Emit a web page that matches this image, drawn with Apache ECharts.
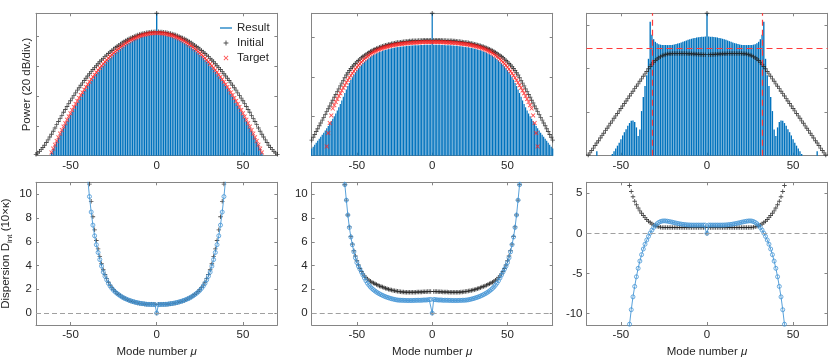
<!DOCTYPE html>
<html>
<head>
<meta charset="utf-8">
<script src="https://cdn.jsdelivr.net/npm/echarts@6/dist/echarts.min.js"></script>
<style>
  html, body { margin: 0; padding: 0; background: #fff; }
  #chart { width: 830px; height: 362px; }
</style>
</head>
<body>
<div id="chart"></div>
<script>
// ---- data (power in dB above the floor, dispersion in units of 10 x kappa) ----
// each series starts at the given mode number and steps by one mode

// panel 1: Kerr comb, power
const res1Start = -61
const res1 = [
  2.0, 4.5, 7.0, 9.4, 11.8, 14.2, 16.5, 18.8, 21.0, 23.2,
  25.4, 27.4, 29.6, 31.7, 33.7, 35.7, 37.7, 39.6, 41.4, 43.3,
  45.1, 46.8, 48.5, 50.2, 51.8, 53.3, 54.9, 56.3, 57.8, 59.2,
  60.5, 61.9, 63.1, 64.3, 65.5, 66.7, 67.8, 68.8, 69.8, 70.8,
  71.7, 72.6, 73.4, 74.2, 75.0, 75.7, 76.4, 77.0, 77.6, 78.1,
  78.6, 79.1, 79.5, 79.8, 80.1, 80.4, 80.7, 80.9, 81.0, 81.1,
  81.2, 95.4, 81.2, 81.1, 81.0, 80.9, 80.7, 80.4, 80.1, 79.8,
  79.5, 79.1, 78.6, 78.1, 77.6, 77.0, 76.4, 75.7, 75.0, 74.2,
  73.4, 72.6, 71.7, 70.8, 69.8, 68.8, 67.8, 66.7, 65.5, 64.3,
  63.1, 61.9, 60.5, 59.2, 57.8, 56.3, 54.9, 53.3, 51.8, 50.2,
  48.5, 46.8, 45.1, 43.3, 41.4, 39.6, 37.7, 35.7, 33.7, 31.7,
  29.6, 27.4, 25.4, 23.2, 21.0, 18.8, 16.5, 14.2, 11.8, 9.4,
  7.0, 4.5, 2.0
]
const init1Start = -70
const init1 = [
  0.9, 1.8, 2.9, 4.1, 5.5, 7.0, 8.8, 10.6, 12.5, 14.4,
  16.4, 18.6, 20.8, 22.9, 25.0, 27.0, 29.1, 31.0, 33.0, 34.9,
  36.8, 38.6, 40.4, 42.1, 43.9, 45.5, 47.2, 48.8, 50.4, 51.9,
  53.4, 54.9, 56.3, 57.7, 59.0, 60.3, 61.6, 62.9, 64.1, 65.2,
  66.4, 67.4, 68.5, 69.5, 70.5, 71.4, 72.3, 73.2, 74.0, 74.8,
  75.6, 76.3, 77.0, 77.7, 78.3, 78.8, 79.4, 79.9, 80.3, 80.8,
  81.2, 81.5, 81.8, 82.1, 82.3, 82.5, 82.7, 82.8, 82.9, 83.0,
  95.4, 83.0, 82.9, 82.8, 82.7, 82.5, 82.3, 82.1, 81.8, 81.5,
  81.2, 80.8, 80.3, 79.9, 79.4, 78.8, 78.3, 77.7, 77.0, 76.3,
  75.6, 74.8, 74.0, 73.2, 72.3, 71.4, 70.5, 69.5, 68.5, 67.4,
  66.4, 65.2, 64.1, 62.9, 61.6, 60.3, 59.0, 57.7, 56.3, 54.9,
  53.4, 51.9, 50.4, 48.8, 47.2, 45.5, 43.9, 42.1, 40.4, 38.6,
  36.8, 34.9, 33.0, 31.0, 29.1, 27.0, 25.0, 22.9, 20.8, 18.6,
  16.4, 14.4, 12.5, 10.6, 8.8, 7.0, 5.5, 4.1, 2.9, 1.8,
  0.9
]
const tgt1Start = -61
const tgt1 = [
  2.2, 4.8, 7.4, 9.9, 12.3, 14.8, 17.2, 19.5, 21.8, 24.1,
  26.3, 28.4, 30.6, 32.7, 34.7, 36.7, 38.7, 40.6, 42.4, 44.3,
  46.1, 47.8, 49.5, 51.2, 52.8, 54.3, 55.9, 57.3, 58.8, 60.2,
  61.5, 62.9, 64.1, 65.3, 66.5, 67.7, 68.8, 69.8, 70.8, 71.8,
  72.7, 73.6, 74.4, 75.2, 76.0, 76.7, 77.4, 78.0, 78.6, 79.1,
  79.6, 80.1, 80.5, 80.8, 81.1, 81.4, 81.7, 81.9, 82.0, 82.1,
  82.2, 82.2, 82.2, 82.1, 82.0, 81.9, 81.7, 81.4, 81.1, 80.8,
  80.5, 80.1, 79.6, 79.1, 78.6, 78.0, 77.4, 76.7, 76.0, 75.2,
  74.4, 73.6, 72.7, 71.8, 70.8, 69.8, 68.8, 67.7, 66.5, 65.3,
  64.1, 62.9, 61.5, 60.2, 58.8, 57.3, 55.9, 54.3, 52.8, 51.2,
  49.5, 47.8, 46.1, 44.3, 42.4, 40.6, 38.7, 36.7, 34.7, 32.7,
  30.6, 28.4, 26.3, 24.1, 21.8, 19.5, 17.2, 14.8, 12.3, 9.9,
  7.4, 4.8, 2.2
]

// panel 2: flat-top comb, power
const res2Start = -80
const res2 = [
  3.6, 4.6, 5.6, 6.6, 7.6, 8.6, 9.6, 10.6, 11.7, 12.8,
  13.9, 15.1, 16.3, 17.5, 18.8, 20.1, 21.5, 23.0, 24.6, 26.3,
  28.1, 30.0, 31.9, 33.7, 35.4, 37.0, 38.5, 39.9, 41.2, 42.4,
  43.5, 44.5, 45.4, 46.2, 47.0, 47.7, 48.4, 49.0, 49.6, 50.2,
  50.7, 51.2, 51.6, 52.0, 52.4, 52.7, 53.0, 53.3, 53.6, 53.8,
  54.0, 54.2, 54.4, 54.6, 54.8, 54.9, 55.1, 55.2, 55.3, 55.4,
  55.5, 55.6, 55.7, 55.8, 55.9, 55.9, 56.0, 56.0, 56.1, 56.1,
  56.2, 56.2, 56.3, 56.3, 56.3, 56.4, 56.4, 56.4, 56.4, 56.4,
  72.4, 56.4, 56.4, 56.4, 56.4, 56.4, 56.3, 56.3, 56.3, 56.2,
  56.2, 56.1, 56.1, 56.0, 56.0, 55.9, 55.9, 55.8, 55.7, 55.6,
  55.5, 55.4, 55.3, 55.2, 55.1, 54.9, 54.8, 54.6, 54.4, 54.2,
  54.0, 53.8, 53.6, 53.3, 53.0, 52.7, 52.4, 52.0, 51.6, 51.2,
  50.7, 50.2, 49.6, 49.0, 48.4, 47.7, 47.0, 46.2, 45.4, 44.5,
  43.5, 42.4, 41.2, 39.9, 38.5, 37.0, 35.4, 33.7, 31.9, 30.0,
  28.1, 26.3, 24.6, 23.0, 21.5, 20.1, 18.8, 17.5, 16.3, 15.1,
  13.9, 12.8, 11.7, 10.6, 9.6, 8.6, 7.6, 6.6, 5.6, 4.6,
  3.6
]
const init2Start = -80
const init2 = [
  7.9, 9.4, 10.8, 12.3, 13.7, 15.2, 16.6, 18.1, 19.5, 21.0,
  22.4, 23.9, 25.3, 26.8, 28.2, 29.7, 31.1, 32.6, 34.0, 35.5,
  36.9, 38.3, 39.7, 41.0, 42.2, 43.3, 44.3, 45.2, 46.1, 46.9,
  47.7, 48.4, 49.1, 49.8, 50.4, 51.0, 51.5, 52.0, 52.5, 53.0,
  53.4, 53.8, 54.1, 54.5, 54.8, 55.1, 55.4, 55.6, 55.9, 56.1,
  56.3, 56.5, 56.7, 56.9, 57.1, 57.2, 57.4, 57.5, 57.6, 57.7,
  57.8, 57.9, 58.0, 58.1, 58.2, 58.3, 58.3, 58.4, 58.4, 58.5,
  58.5, 58.6, 58.6, 58.6, 58.7, 58.7, 58.7, 58.7, 58.7, 58.7,
  72.4, 58.7, 58.7, 58.7, 58.7, 58.7, 58.7, 58.6, 58.6, 58.6,
  58.5, 58.5, 58.4, 58.4, 58.3, 58.3, 58.2, 58.1, 58.0, 57.9,
  57.8, 57.7, 57.6, 57.5, 57.4, 57.2, 57.1, 56.9, 56.7, 56.5,
  56.3, 56.1, 55.9, 55.6, 55.4, 55.1, 54.8, 54.5, 54.1, 53.8,
  53.4, 53.0, 52.5, 52.0, 51.5, 51.0, 50.4, 49.8, 49.1, 48.4,
  47.7, 46.9, 46.1, 45.2, 44.3, 43.3, 42.2, 41.0, 39.7, 38.3,
  36.9, 35.5, 34.0, 32.6, 31.1, 29.7, 28.2, 26.8, 25.3, 23.9,
  22.4, 21.0, 19.5, 18.1, 16.6, 15.2, 13.7, 12.3, 10.8, 9.4,
  7.9
]
const tgt2Start = -70
const tgt2 = [
  4.7, 11.5, 16.6, 20.5, 24.0, 25.7, 27.3, 28.8, 30.3, 31.7,
  33.1, 34.5, 35.8, 37.1, 38.4, 39.6, 40.8, 41.9, 43.0, 44.0,
  45.0, 45.9, 46.8, 47.6, 48.4, 49.1, 49.8, 50.4, 51.0, 51.6,
  52.1, 52.6, 53.0, 53.4, 53.8, 54.1, 54.4, 54.7, 55.0, 55.2,
  55.4, 55.6, 55.8, 56.0, 56.2, 56.3, 56.5, 56.6, 56.7, 56.8,
  56.9, 57.0, 57.1, 57.2, 57.3, 57.3, 57.4, 57.4, 57.5, 57.5,
  57.6, 57.6, 57.7, 57.7, 57.7, 57.8, 57.8, 57.8, 57.8, 57.8,
  57.8, 57.8, 57.8, 57.8, 57.8, 57.8, 57.7, 57.7, 57.7, 57.6,
  57.6, 57.5, 57.5, 57.4, 57.4, 57.3, 57.3, 57.2, 57.1, 57.0,
  56.9, 56.8, 56.7, 56.6, 56.5, 56.3, 56.2, 56.0, 55.8, 55.6,
  55.4, 55.2, 55.0, 54.7, 54.4, 54.1, 53.8, 53.4, 53.0, 52.6,
  52.1, 51.6, 51.0, 50.4, 49.8, 49.1, 48.4, 47.6, 46.8, 45.9,
  45.0, 44.0, 43.0, 41.9, 40.8, 39.6, 38.4, 37.1, 35.8, 34.5,
  33.1, 31.7, 30.3, 28.8, 27.3, 25.7, 24.0, 20.5, 16.6, 11.5,
  4.7
]

// panel 3: comb with dispersive waves, power
const res3Start = -64
const res3 = [
  2.0, 0, 0, 0, 0, 0, 0, 0, 0, 0.8,
  2.0, 3.3, 4.6, 6.0, 7.6, 9.3, 10.8, 12.2, 13.8, 15.0,
  16.0, 16.2, 15.5, 13.0, 9.0, 12.0, 20.5, 27.0, 32.0, 37.0,
  44.5, 61.5, 55.5, 53.5, 52.3, 51.6, 51.2, 51.0, 50.8, 50.8,
  50.8, 50.8, 50.8, 50.8, 50.9, 51.1, 51.3, 51.5, 51.7, 52.0,
  52.3, 52.6, 52.9, 53.2, 53.5, 53.7, 53.9, 54.1, 54.3, 54.4,
  54.5, 54.6, 54.6, 54.7, 65.4, 54.7, 54.6, 54.6, 54.5, 54.4,
  54.3, 54.1, 53.9, 53.7, 53.5, 53.2, 52.9, 52.6, 52.3, 52.0,
  51.7, 51.5, 51.3, 51.1, 50.9, 50.8, 50.8, 50.8, 50.8, 50.8,
  50.8, 51.0, 51.2, 51.6, 52.3, 53.5, 55.5, 61.5, 44.5, 37.0,
  32.0, 27.0, 20.5, 12.0, 9.0, 13.0, 15.5, 16.2, 16.0, 15.0,
  13.8, 12.2, 10.8, 9.3, 7.6, 6.0, 4.6, 3.3, 2.0, 0.8,
  0, 0, 0, 0, 0, 0, 0, 0, 2.0
]
const init3Start = -69
const init3 = [
  0.3, 1.3, 2.4, 3.5, 4.7, 5.8, 6.9, 8.1, 9.2, 10.3,
  11.5, 12.6, 13.7, 14.9, 16.0, 17.2, 18.3, 19.4, 20.6, 21.7,
  22.8, 24.0, 25.1, 26.2, 27.4, 28.5, 29.6, 30.8, 31.9, 33.0,
  34.2, 35.3, 36.5, 37.6, 38.7, 39.9, 41.0, 42.0, 42.9, 43.7,
  44.4, 45.0, 45.5, 45.9, 46.2, 46.5, 46.7, 46.8, 46.8, 46.9,
  46.9, 46.9, 46.9, 46.9, 46.9, 46.9, 46.9, 46.9, 46.8, 46.8,
  46.8, 46.7, 46.7, 46.6, 46.6, 46.5, 46.5, 46.4, 46.4, 65.4,
  46.4, 46.4, 46.5, 46.5, 46.6, 46.6, 46.7, 46.7, 46.8, 46.8,
  46.8, 46.9, 46.9, 46.9, 46.9, 46.9, 46.9, 46.9, 46.9, 46.9,
  46.8, 46.8, 46.7, 46.5, 46.2, 45.9, 45.5, 45.0, 44.4, 43.7,
  42.9, 42.0, 41.0, 39.9, 38.7, 37.6, 36.5, 35.3, 34.2, 33.0,
  31.9, 30.8, 29.6, 28.5, 27.4, 26.2, 25.1, 24.0, 22.8, 21.7,
  20.6, 19.4, 18.3, 17.2, 16.0, 14.9, 13.7, 12.6, 11.5, 10.3,
  9.2, 8.1, 6.9, 5.8, 4.7, 3.5, 2.4, 1.3, 0.3
]
const cutModes3 = [-32, 32]
const cutLevel3 = 49.5

// panel 4-6: integrated dispersion
const disp4Start = -40
const res4 = [
  11.3, 9.8, 8.5, 7.4, 6.5, 5.75, 5.1, 4.5, 3.95, 3.45,
  3.1, 2.8, 2.5, 2.27, 2.08, 1.91, 1.77, 1.65, 1.54, 1.44,
  1.35, 1.27, 1.2, 1.14, 1.08, 1.03, 0.98, 0.94, 0.9, 0.87,
  0.84, 0.81, 0.79, 0.77, 0.75, 0.74, 0.73, 0.73, 0.72, 0.72,
  0, 0.72, 0.72, 0.73, 0.73, 0.74, 0.75, 0.77, 0.79, 0.81,
  0.84, 0.87, 0.9, 0.94, 0.98, 1.03, 1.08, 1.14, 1.2, 1.27,
  1.35, 1.44, 1.54, 1.65, 1.77, 1.91, 2.08, 2.27, 2.5, 2.8,
  3.1, 3.45, 3.95, 4.5, 5.1, 5.75, 6.5, 7.4, 8.5, 9.8,
  11.3
]
const init4 = [
  12.5, 10.85, 9.4, 8.1, 7.0, 6.1, 5.4, 4.75, 4.15, 3.65,
  3.25, 2.9, 2.6, 2.35, 2.14, 1.97, 1.82, 1.68, 1.56, 1.45,
  1.35, 1.27, 1.2, 1.13, 1.07, 1.02, 0.97, 0.93, 0.89, 0.86,
  0.83, 0.8, 0.78, 0.76, 0.75, 0.74, 0.74, 0.74, 0.74, 0.74,
  0, 0.74, 0.74, 0.74, 0.74, 0.74, 0.75, 0.76, 0.78, 0.8,
  0.83, 0.86, 0.89, 0.93, 0.97, 1.02, 1.07, 1.13, 1.2, 1.27,
  1.35, 1.45, 1.56, 1.68, 1.82, 1.97, 2.14, 2.35, 2.6, 2.9,
  3.25, 3.65, 4.15, 4.75, 5.4, 6.1, 7.0, 8.1, 9.4, 10.85,
  12.5
]
const disp5Start = -59
const res5 = [
  12.3, 10.8, 9.5, 8.25, 7.2, 6.4, 5.75, 5.15, 4.65, 4.25,
  3.95, 3.7, 3.45, 3.2, 2.95, 2.72, 2.52, 2.35, 2.2, 2.07,
  1.96, 1.86, 1.77, 1.69, 1.62, 1.55, 1.49, 1.43, 1.38, 1.33,
  1.29, 1.25, 1.21, 1.18, 1.15, 1.12, 1.1, 1.09, 1.08, 1.08,
  1.07, 1.07, 1.06, 1.06, 1.06, 1.06, 1.06, 1.07, 1.07, 1.08,
  1.08, 1.08, 1.08, 1.1, 1.1, 1.1, 1.12, 1.13, 1.15, 0,
  1.15, 1.13, 1.12, 1.1, 1.1, 1.1, 1.08, 1.08, 1.08, 1.08,
  1.07, 1.07, 1.06, 1.06, 1.06, 1.06, 1.06, 1.07, 1.07, 1.08,
  1.08, 1.09, 1.1, 1.12, 1.15, 1.18, 1.21, 1.25, 1.29, 1.33,
  1.38, 1.43, 1.49, 1.55, 1.62, 1.69, 1.77, 1.86, 1.96, 2.07,
  2.2, 2.35, 2.52, 2.72, 2.95, 3.2, 3.45, 3.7, 3.95, 4.25,
  4.65, 5.15, 5.75, 6.4, 7.2, 8.25, 9.5, 10.8, 12.3
]
const init5 = [
  12.3, 10.8, 9.5, 8.25, 7.25, 6.45, 5.8, 5.25, 4.8, 4.4,
  4.05, 3.75, 3.5, 3.3, 3.13, 2.98, 2.86, 2.76, 2.67, 2.6,
  2.53, 2.47, 2.41, 2.35, 2.29, 2.24, 2.19, 2.14, 2.09, 2.05,
  2.01, 1.97, 1.94, 1.91, 1.88, 1.85, 1.83, 1.81, 1.79, 1.78,
  1.77, 1.76, 1.76, 1.76, 1.76, 1.76, 1.76, 1.76, 1.76, 1.77,
  1.77, 1.78, 1.78, 1.79, 1.8, 1.8, 1.81, 1.81, 1.82, 0,
  1.82, 1.81, 1.81, 1.8, 1.8, 1.79, 1.78, 1.78, 1.77, 1.77,
  1.76, 1.76, 1.76, 1.76, 1.76, 1.76, 1.76, 1.76, 1.77, 1.78,
  1.79, 1.81, 1.83, 1.85, 1.88, 1.91, 1.94, 1.97, 2.01, 2.05,
  2.09, 2.14, 2.19, 2.24, 2.29, 2.35, 2.41, 2.47, 2.53, 2.6,
  2.67, 2.76, 2.86, 2.98, 3.13, 3.3, 3.5, 3.75, 4.05, 4.4,
  4.8, 5.25, 5.8, 6.45, 7.25, 8.25, 9.5, 10.8, 12.3
]
const disp6Start = -46
const res6 = [
  -13.5, -11.3, -9.5, -7.9, -6.6, -5.4, -4.35, -3.45, -2.65, -1.95,
  -1.35, -0.83, -0.38, 0.03, 0.41, 0.73, 0.99, 1.2, 1.36, 1.47,
  1.53, 1.55, 1.54, 1.51, 1.47, 1.43, 1.38, 1.33, 1.28, 1.23,
  1.19, 1.15, 1.12, 1.09, 1.07, 1.05, 1.04, 1.03, 1.03, 1.03,
  1.03, 1.03, 1.03, 1.03, 1.03, 1.03, 0, 1.03, 1.03, 1.03,
  1.03, 1.03, 1.03, 1.03, 1.03, 1.03, 1.04, 1.05, 1.07, 1.09,
  1.12, 1.15, 1.19, 1.23, 1.28, 1.33, 1.38, 1.43, 1.47, 1.51,
  1.54, 1.55, 1.53, 1.47, 1.36, 1.2, 0.99, 0.73, 0.41, 0.03,
  -0.38, -0.83, -1.35, -1.95, -2.65, -3.45, -4.35, -5.4, -6.6, -7.9,
  -9.5, -11.3, -13.5
]
const init6 = [
  6.8, 5.95, 5.2, 4.55, 4.0, 3.55, 3.15, 2.8, 2.5, 2.22,
  1.96, 1.72, 1.51, 1.33, 1.18, 1.05, 0.95, 0.87, 0.81, 0.77,
  0.74, 0.72, 0.72, 0.72, 0.72, 0.72, 0.72, 0.72, 0.72, 0.72,
  0.72, 0.72, 0.72, 0.72, 0.72, 0.72, 0.72, 0.72, 0.72, 0.72,
  0.72, 0.72, 0.72, 0.72, 0.72, 0.72, 0, 0.72, 0.72, 0.72,
  0.72, 0.72, 0.72, 0.72, 0.72, 0.72, 0.72, 0.72, 0.72, 0.72,
  0.72, 0.72, 0.72, 0.72, 0.72, 0.72, 0.72, 0.72, 0.72, 0.72,
  0.72, 0.72, 0.74, 0.77, 0.81, 0.87, 0.95, 1.05, 1.18, 1.33,
  1.51, 1.72, 1.96, 2.22, 2.5, 2.8, 3.15, 3.55, 4.0, 4.55,
  5.2, 5.95, 6.8
]

// axes
const xRanges = [[-70, 70], [-80, 80], [-70, 70], [-70, 70], [-80, 80], [-70, 70]]
const yRanges = [[0, 95.4], [0, 72.4], [0, 65.4], [-1, 11], [-1, 11], [-11.4, 6.35]]
const xTicks = [-50, 0, 50]
const yTicks = [[0, 20, 40, 60, 80], [0, 20, 40, 60], [0, 20, 40, 60],
  [0, 2, 4, 6, 8, 10], [0, 2, 4, 6, 8, 10], [-10, -5, 0, 5]]

// ---- styling ----
const FONT = '"Liberation Sans", Arial, Helvetica, sans-serif'
const TXT = '#262626'
const AXC = '#858585'
const BLUE = '#0072BD'
const LBLUE = '#4596d6'
const RED = '#ff2222'
const BLK = '#222222'
const PLUS = 'path://M3.2,0L4.8,0L4.8,3.2L8,3.2L8,4.8L4.8,4.8L4.8,8L3.2,8L3.2,4.8L0,4.8L0,3.2L3.2,3.2Z'
const CROSS = 'path://M0,1.1L1.1,0L4,2.9L6.9,0L8,1.1L5.1,4L8,6.9L6.9,8L4,5.1L1.1,8L0,6.9L2.9,4Z'
const PLUS_ICON = 'path://M0,0M20,20M9.2,6L10.8,6L10.8,9.2L14,9.2L14,10.8L10.8,10.8L10.8,14L9.2,14L9.2,10.8L6,10.8L6,9.2L9.2,9.2Z'
const CROSS_ICON = 'path://M0,0M20,20M6,7L7,6L10,9L13,6L14,7L11,10L14,13L13,14L10,11L7,14L6,13L9,10Z'
const LINE_ICON = 'path://M0,0L20,0L20,2L0,2Z'

const boxes = [
  { left: 36, top: 13.3, width: 241.4, height: 142.4 },
  { left: 311.7, top: 13.3, width: 241, height: 142.4 },
  { left: 586.5, top: 13.3, width: 241, height: 142.4 },
  { left: 36, top: 182.3, width: 241.4, height: 142.7 },
  { left: 311.7, top: 182.3, width: 241, height: 142.7 },
  { left: 586.5, top: 182.3, width: 241, height: 142.7 }
]

function pts (start, vals) {
  return vals.map((v, i) => [start + i, v])
}

const labelFont = { color: TXT, fontSize: 11.5, fontFamily: FONT }

const grid = boxes.map(b => Object.assign({ containLabel: false, outerBoundsMode: 'none' }, b))
const xAxis = []
const yAxis = []
boxes.forEach((b, i) => {
  const common = {
    type: 'value',
    gridIndex: i,
    splitLine: { show: false },
    axisLine: { show: true, onZero: false, lineStyle: { color: AXC, width: 1 } },
    nameMoveOverlap: false
  }
  const xt = { show: true, inside: true, length: 3, customValues: xTicks, lineStyle: { color: AXC } }
  const yt = { show: true, inside: true, length: 3, customValues: yTicks[i], lineStyle: { color: AXC } }
  xAxis.push(Object.assign({}, common, {
    position: 'bottom', min: xRanges[i][0], max: xRanges[i][1],
    axisTick: xt,
    axisLabel: Object.assign({ show: true, customValues: xTicks, margin: 4 }, labelFont),
    name: i >= 3 ? 'Mode number {it|μ}' : '',
    nameLocation: 'middle',
    nameGap: 21,
    nameTextStyle: Object.assign({ rich: { it: Object.assign({ fontStyle: 'italic' }, labelFont) } }, labelFont)
  }))
  xAxis.push(Object.assign({}, common, {
    position: 'top', min: xRanges[i][0], max: xRanges[i][1],
    axisTick: xt, axisLabel: { show: false }
  }))
  let yName = ''
  let yGap = 1
  if (i === 0) yName = 'Power (20 dB/div.)'
  if (i === 3) { yName = 'Dispersion D{sub|int} (10×κ)'; yGap = 22 }
  yAxis.push(Object.assign({}, common, {
    position: 'left', min: yRanges[i][0], max: yRanges[i][1],
    axisTick: yt,
    axisLabel: Object.assign({ show: i >= 3, customValues: yTicks[i], margin: 4 }, labelFont),
    name: yName,
    nameLocation: 'middle',
    nameRotate: 90,
    nameGap: yGap,
    nameTextStyle: Object.assign({
      lineHeight: 16,
      rich: { sub: { fontSize: 8, lineHeight: 10, verticalAlign: 'bottom', color: TXT, fontFamily: FONT } }
    }, labelFont)
  }))
  yAxis.push(Object.assign({}, common, {
    position: 'right', min: yRanges[i][0], max: yRanges[i][1],
    axisTick: yt, axisLabel: { show: false }
  }))
})

function bars (i, name, start, vals, width) {
  return {
    type: 'bar', name: name, xAxisIndex: 2 * i, yAxisIndex: 2 * i,
    data: pts(start, vals), barWidth: width,
    itemStyle: { color: BLUE }, silent: true
  }
}
function marks (i, name, start, vals, symbol, color, size) {
  return {
    type: 'scatter', name: name, xAxisIndex: 2 * i, yAxisIndex: 2 * i,
    data: pts(start, vals), symbol: symbol, symbolSize: size,
    itemStyle: { color: color }, silent: true
  }
}
function curve (i, start, vals) {
  return {
    type: 'line', name: 'Result D', xAxisIndex: 2 * i, yAxisIndex: 2 * i,
    data: pts(start, vals), symbol: 'circle', symbolSize: 4,
    lineStyle: { color: LBLUE, width: 0.9 },
    itemStyle: { color: 'rgba(0,0,0,0)', borderColor: LBLUE, borderWidth: 0.8 },
    silent: true
  }
}
const zeroLine = {
  silent: true, symbol: ['none', 'none'], label: { show: false },
  lineStyle: { color: '#a0a0a0', type: [5, 3], width: 1 },
  data: [{ yAxis: 0 }]
}

const init3Series = marks(2, 'Initial', init3Start, init3, PLUS, BLK, 4.5)
init3Series.markLine = {
  silent: true, symbol: ['none', 'none'], label: { show: false },
  lineStyle: { color: '#ff3b3b', type: [6, 4], width: 1.2 },
  data: [{ xAxis: cutModes3[0] }, { xAxis: cutModes3[1] }, { yAxis: cutLevel3 }]
}

const k4 = marks(3, 'Initial D', disp4Start, init4, PLUS, BLK, 4.5)
k4.markLine = zeroLine
const k5 = marks(4, 'Initial D', disp5Start, init5, PLUS, BLK, 4.5)
k5.markLine = zeroLine
const k6 = marks(5, 'Initial D', disp6Start, init6, PLUS, BLK, 4.5)
k6.markLine = zeroLine

const series = [
  bars(0, 'Result', res1Start, res1, 1.35),
  marks(0, 'Initial', init1Start, init1, PLUS, BLK, 4.5),
  marks(0, 'Target', tgt1Start, tgt1, CROSS, RED, 4.5),
  bars(1, 'Result', res2Start, res2, 1.2),
  marks(1, 'Initial', init2Start, init2, PLUS, BLK, 4.5),
  marks(1, 'Target', tgt2Start, tgt2, CROSS, RED, 4.5),
  bars(2, 'Result', res3Start, res3, 1.35),
  init3Series,
  k4, curve(3, disp4Start, res4),
  k5, curve(4, disp5Start, res5),
  k6, curve(5, disp6Start, res6)
]

const chart = echarts.init(document.getElementById('chart'), null, { renderer: 'canvas' })
chart.setOption({
  animation: false,
  backgroundColor: '#fff',
  textStyle: { fontFamily: FONT },
  grid: grid,
  xAxis: xAxis,
  yAxis: yAxis,
  legend: {
    data: [
      { name: 'Result', icon: LINE_ICON },
      { name: 'Initial', icon: PLUS_ICON },
      { name: 'Target', icon: CROSS_ICON }
    ],
    orient: 'vertical',
    left: 220,
    top: 22,
    padding: 0,
    itemWidth: 12,
    itemHeight: 12,
    itemGap: 3,
    selectedMode: false,
    textStyle: labelFont
  },
  series: series
})
</script>
</body>
</html>
